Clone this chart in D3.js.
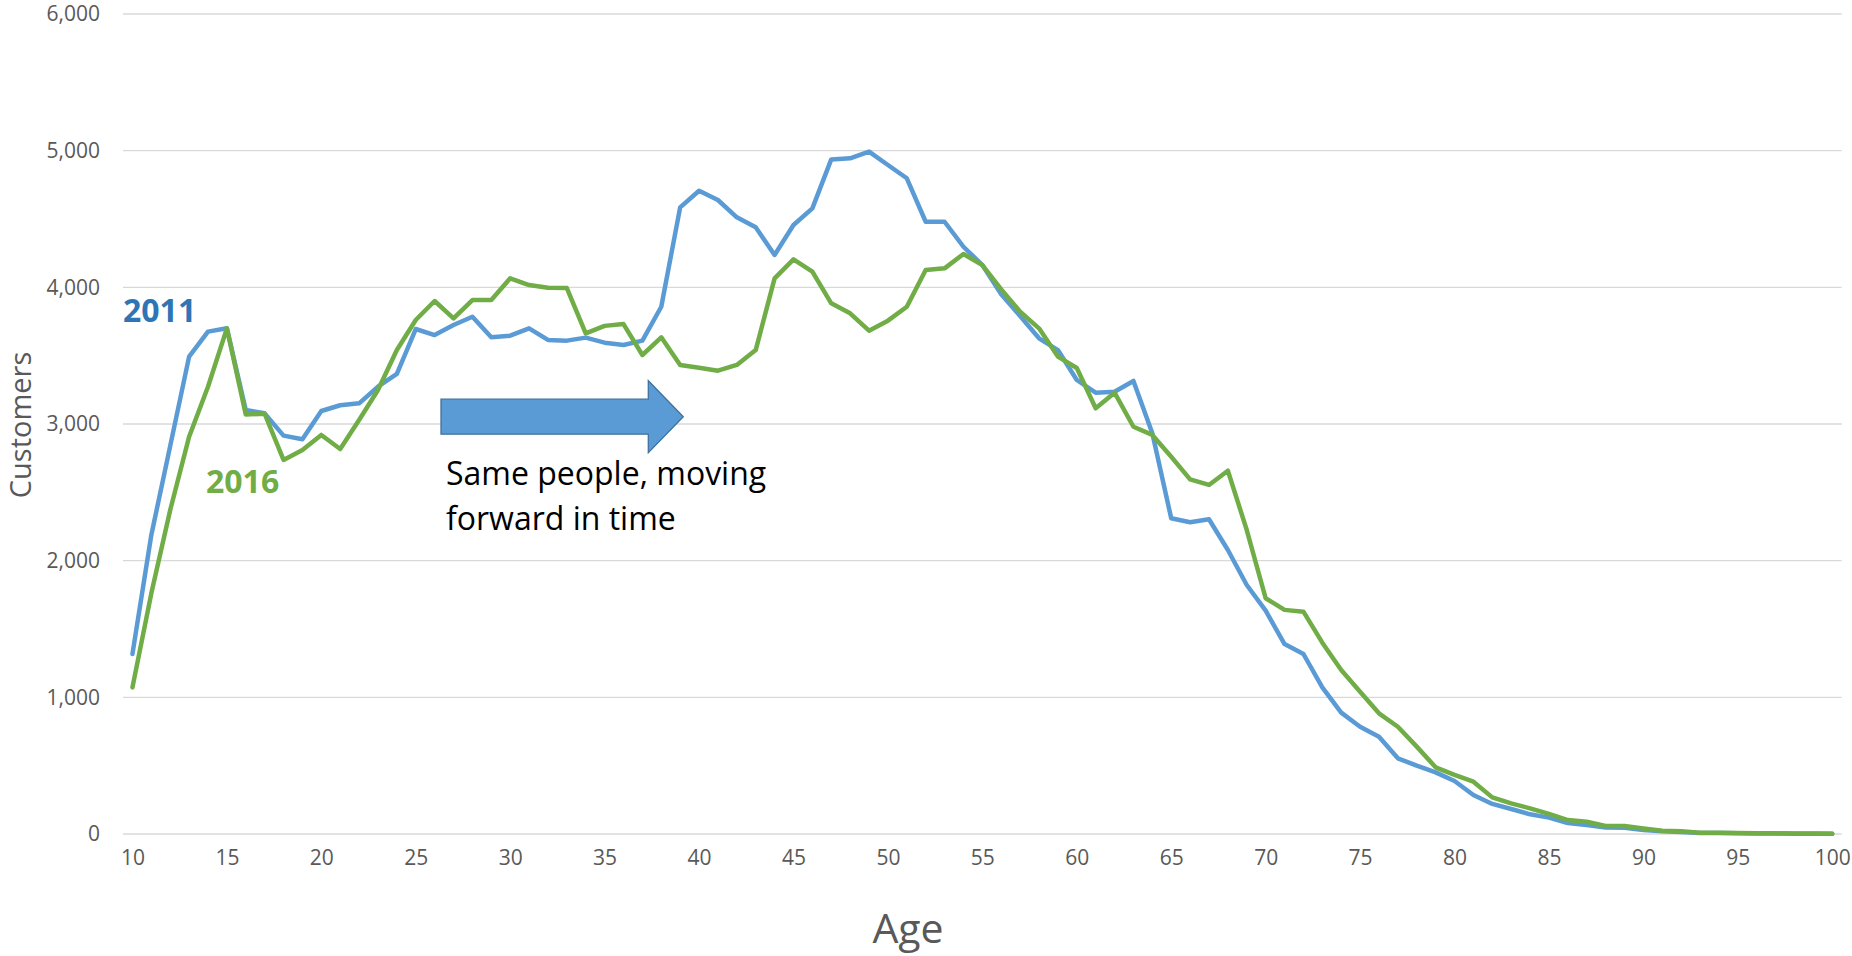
<!DOCTYPE html>
<html>
<head>
<meta charset="utf-8">
<script src="https://cdn.jsdelivr.net/npm/d3@7"></script>
<style>
  html, body { margin: 0; padding: 0; background: #ffffff; }
  svg { display: block; }
  text { font-family: "Open Sans", "Noto Sans", sans-serif; }
</style>
</head>
<body>
<svg id="chart" width="1852" height="956"></svg>
<script>
// Ages on the category axis
const ages = d3.range(10, 101);

// Customers by age, 2011
const customers2011 = [
  1317, 2188, 2840, 3493, 3676, 3700, 3102, 3078, 2915, 2888,
  3095, 3137, 3151, 3273, 3366, 3695, 3651, 3724, 3785, 3634,
  3646, 3700, 3615, 3610, 3632, 3595, 3578, 3610, 3858, 4585,
  4707, 4639, 4512, 4439, 4237, 4456, 4578, 4936, 4944, 4993,
  4895, 4798, 4480, 4480, 4297, 4163, 3950, 3790, 3627, 3541,
  3322, 3229, 3236, 3315, 2932, 2310, 2281, 2303, 2078, 1822,
  1634, 1390, 1317, 1073, 888, 785, 712, 554, 500, 451,
  388, 285, 220, 183, 144, 120, 80, 65, 48, 45,
  30, 20, 15, 8, 7, 5, 4, 3, 2, 2,
  1
];

// Customers by age, 2016
const customers2016 = [
  1073, 1761, 2371, 2907, 3273, 3700, 3070, 3075, 2737, 2810,
  2920, 2817, 3029, 3249, 3541, 3761, 3900, 3773, 3907, 3907,
  4066, 4017, 3997, 3995, 3663, 3718, 3731, 3505, 3634, 3432,
  3412, 3390, 3432, 3541, 4066, 4205, 4115, 3883, 3810, 3683,
  3756, 3858, 4127, 4139, 4244, 4163, 3985, 3822, 3700, 3493,
  3410, 3115, 3229, 2980, 2920, 2761, 2595, 2554, 2658, 2224,
  1725, 1640, 1627, 1400, 1200, 1041, 883, 785, 639, 488,
  432, 383, 268, 224, 188, 147, 102, 90, 59, 59,
  41, 24, 20, 10, 10, 7, 5, 5, 3, 3,
  2
];

const yTicks = [0, 1000, 2000, 3000, 4000, 5000, 6000];
const xTickAges = d3.range(10, 101, 5);

const seriesNames = ["2011", "2016"];
const seriesColors = ["#5B9BD5", "#70AD47"];
const labelColors = ["#2E75B6", "#70AD47"];

const svg = d3.select("#chart");

const plot = { left: 123, right: 1841.7, top: 14, bottom: 834 };

const x = d3.scalePoint()
  .domain(ages)
  .range([plot.left, plot.right])
  .padding(0.5);

const y = d3.scaleLinear()
  .domain([0, 6000])
  .range([plot.bottom, plot.top]);

// Horizontal gridlines
svg.append("g")
  .selectAll("line")
  .data(yTicks)
  .join("line")
  .attr("x1", plot.left)
  .attr("x2", plot.right)
  .attr("y1", d => y(d))
  .attr("y2", d => y(d))
  .attr("stroke", "#D9D9D9")
  .attr("stroke-width", 1.4);

// Y axis labels
const yAxis = d3.axisLeft(y)
  .tickValues(yTicks)
  .tickFormat(d3.format(","))
  .tickSize(0)
  .tickPadding(0);

svg.append("g")
  .attr("transform", `translate(${plot.left - 23},0)`)
  .call(yAxis)
  .call(g => g.select(".domain").remove())
  .call(g => g.selectAll("text")
    .attr("fill", "#595959")
    .style("font-size", "21px")
    .style("font-family", "'Open Sans', sans-serif"));

// X axis labels
const xAxis = d3.axisBottom(x)
  .tickValues(xTickAges)
  .tickSize(0)
  .tickPadding(0);

svg.append("g")
  .attr("transform", `translate(0,${plot.bottom + 16})`)
  .call(xAxis)
  .call(g => g.select(".domain").remove())
  .call(g => g.selectAll("text")
    .attr("fill", "#595959")
    .style("font-size", "21px")
    .style("font-family", "'Open Sans', sans-serif"));

// Axis titles
svg.append("text")
  .attr("x", 908)
  .attr("y", 943)
  .attr("text-anchor", "middle")
  .attr("fill", "#595959")
  .style("font-size", "41px")
  .text("Age");

svg.append("text")
  .attr("transform", "translate(31,425) rotate(-90)")
  .attr("text-anchor", "middle")
  .attr("fill", "#595959")
  .style("font-size", "29px")
  .text("Customers");

// Series lines
const line = d3.line()
  .x((d, i) => x(ages[i]))
  .y(d => y(d));

[customers2011, customers2016].forEach((values, k) => {
  svg.append("path")
    .datum(values)
    .attr("d", line)
    .attr("fill", "none")
    .attr("stroke", seriesColors[k])
    .attr("stroke-width", 4.5)
    .attr("stroke-linejoin", "round")
    .attr("stroke-linecap", "round");
});

// Series labels
svg.append("text")
  .attr("x", 123)
  .attr("y", 321.5)
  .attr("fill", labelColors[0])
  .style("font-size", "32px")
  .style("font-weight", "700")
  .text(seriesNames[0]);

svg.append("text")
  .attr("x", 206)
  .attr("y", 492.5)
  .attr("fill", labelColors[1])
  .style("font-size", "32px")
  .style("font-weight", "700")
  .text(seriesNames[1]);

// Block arrow annotation
const arrow = { x0: 441, x1: 648.3, tip: 683.3, yMid: 416.7, bodyHalf: 17.5, headHalf: 36 };
svg.append("path")
  .attr("d", [
    `M${arrow.x0},${arrow.yMid - arrow.bodyHalf}`,
    `L${arrow.x1},${arrow.yMid - arrow.bodyHalf}`,
    `L${arrow.x1},${arrow.yMid - arrow.headHalf}`,
    `L${arrow.tip},${arrow.yMid}`,
    `L${arrow.x1},${arrow.yMid + arrow.headHalf}`,
    `L${arrow.x1},${arrow.yMid + arrow.bodyHalf}`,
    `L${arrow.x0},${arrow.yMid + arrow.bodyHalf}`,
    "Z"
  ].join(" "))
  .attr("fill", "#5B9BD5")
  .attr("stroke", "#41719C")
  .attr("stroke-width", 1.3);

const note = svg.append("text")
  .attr("fill", "#000000")
  .style("font-size", "32px");
note.append("tspan").attr("x", 446).attr("y", 485).text("Same people, moving");
note.append("tspan").attr("x", 446).attr("y", 530).text("forward in time");
</script>
</body>
</html>
